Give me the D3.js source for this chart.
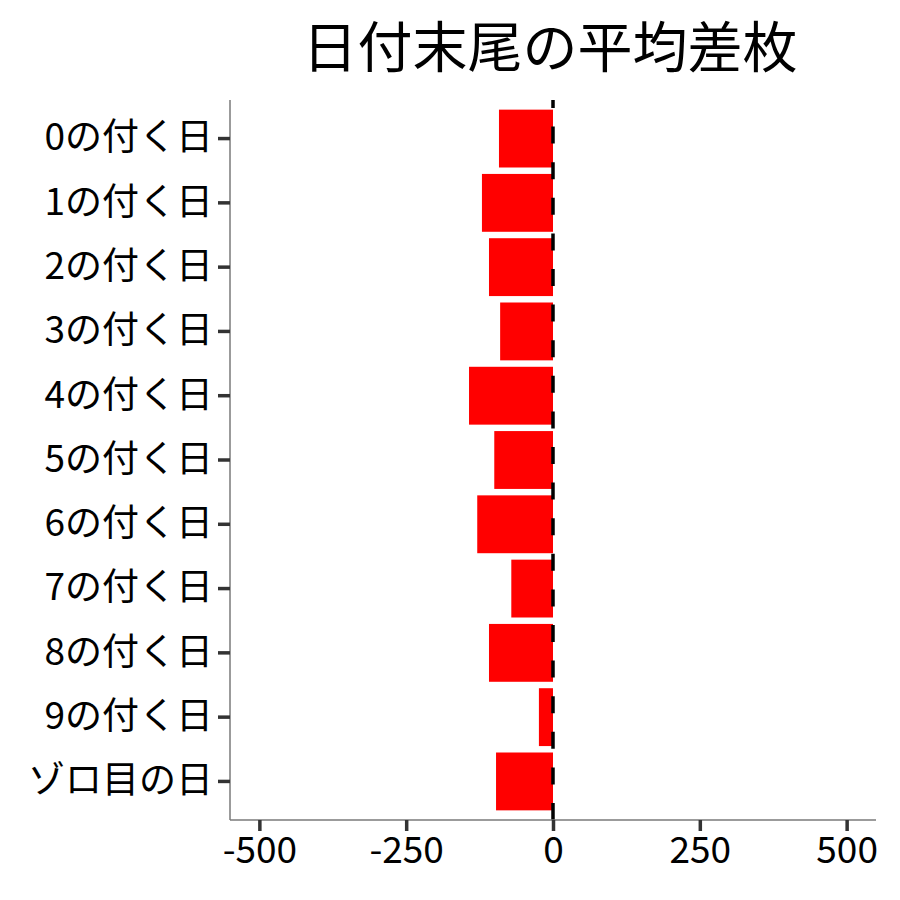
<!DOCTYPE html>
<html>
<head>
<meta charset="utf-8">
<script src="https://cdn.jsdelivr.net/npm/d3@7"></script>
<style>
  body { margin: 0; background: #fff; }
  text { font-family: "Noto Sans CJK JP", "Noto Sans", sans-serif; }
</style>
</head>
<body>
<div id="chart"></div>
<script>
// chart data
const categories = ['0の付く日', '1の付く日', '2の付く日', '3の付く日', '4の付く日',
  '5の付く日', '6の付く日', '7の付く日', '8の付く日', '9の付く日', 'ゾロ目の日'];
const avgDiff = [-92, -121, -109, -90, -143, -100, -129, -71, -109, -24, -97];
const xTicks = [-500, -250, 0, 250, 500];
const titleText = '日付末尾の平均差枚';

const width = 900;
const height = 900;
const margin = { top: 100, right: 24, bottom: 80, left: 230 };
const innerWidth = width - margin.left - margin.right;
const innerHeight = height - margin.top - margin.bottom;

const svg = d3.select('#chart')
  .append('svg')
  .attr('width', width)
  .attr('height', height);

const g = svg.append('g')
  .attr('transform', `translate(${margin.left},${margin.top})`);

// scales
const xScale = d3.scaleLinear()
  .domain([-550, 550])
  .range([0, innerWidth]);

const yScale = d3.scaleBand()
  .domain(categories)
  .range([0, innerHeight])
  .paddingInner(0.1)
  .paddingOuter(0.15);

const rows = categories.map((c, i) => ({ cat: c, value: avgDiff[i] }));

// bars
g.selectAll('rect.bar')
  .data(rows)
  .join('rect')
  .attr('class', 'bar')
  .attr('x', d => xScale(Math.min(0, d.value)))
  .attr('y', d => yScale(d.cat))
  .attr('width', d => Math.abs(xScale(d.value) - xScale(0)))
  .attr('height', yScale.bandwidth())
  .attr('fill', '#ff0000');

// zero reference line, dashes start from the bottom
g.append('line')
  .attr('x1', xScale(0))
  .attr('x2', xScale(0))
  .attr('y1', innerHeight)
  .attr('y2', 0)
  .attr('stroke', '#000')
  .attr('stroke-width', 3.5)
  .attr('stroke-dasharray', '17 18.6');

// axes
const xAxis = g.append('g')
  .attr('transform', `translate(0,${innerHeight})`)
  .call(d3.axisBottom(xScale).tickValues(xTicks).tickSize(11).tickPadding(6).tickFormat(d => String(d)));

const yAxis = g.append('g')
  .call(d3.axisLeft(yScale).tickSize(12).tickPadding(5));

[xAxis, yAxis].forEach(ax => {
  ax.select('.domain').attr('stroke', '#7a7a7a').attr('stroke-width', 1.5);
  ax.selectAll('.tick line').attr('stroke', '#333').attr('stroke-width', 3.5);
  ax.selectAll('.tick text')
    .attr('fill', '#000')
    .style('font-size', '37px')
    .style('font-family', '"Noto Sans CJK JP", "Noto Sans", sans-serif');
});
// no outer ticks on the domain path ends
xAxis.select('.domain').attr('d', `M0,0H${innerWidth}`);
yAxis.select('.domain').attr('d', `M0,0V${innerHeight}`);

// title
svg.append('text')
  .attr('x', margin.left + innerWidth / 2 - 3)
  .attr('y', 67)
  .attr('text-anchor', 'middle')
  .style('font-size', '55px')
  .attr('fill', '#000')
  .text(titleText);
</script>
</body>
</html>
